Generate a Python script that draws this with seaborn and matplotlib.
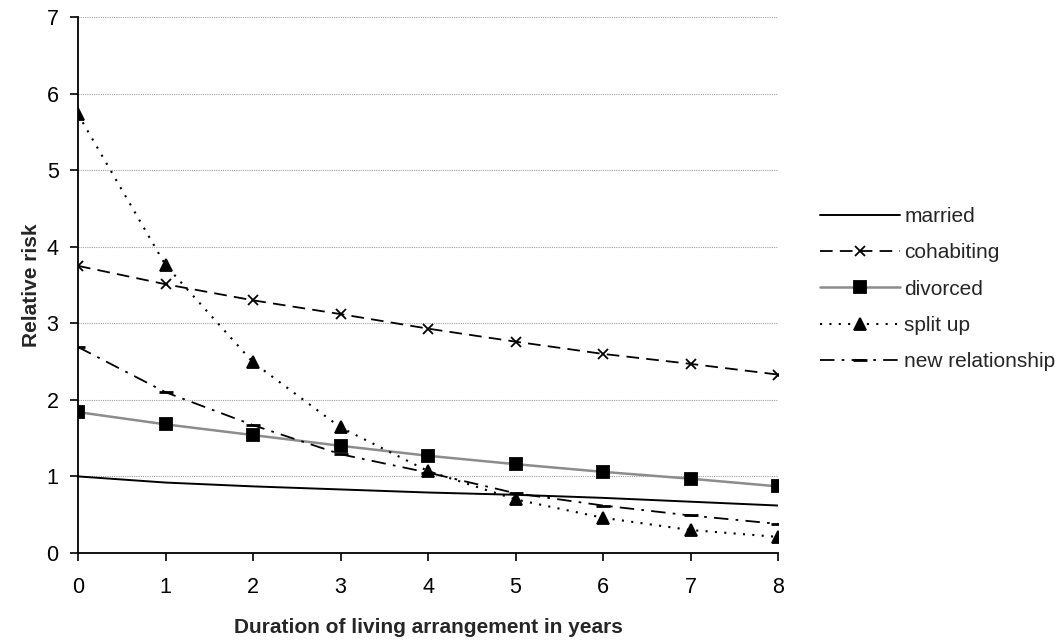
import numpy as np
import pandas as pd
import matplotlib
matplotlib.use("Agg")
import matplotlib.pyplot as plt
import seaborn as sns

# values
years = [0, 1, 2, 3, 4, 5, 6, 7, 8]
married = [1.00, 0.92, 0.87, 0.83, 0.79, 0.76, 0.72, 0.67, 0.62]
cohabiting = [3.75, 3.51, 3.30, 3.12, 2.93, 2.76, 2.60, 2.47, 2.33]
divorced = [1.84, 1.68, 1.54, 1.40, 1.27, 1.16, 1.06, 0.97, 0.87]
split_up = [5.73, 3.76, 2.49, 1.64, 1.07, 0.70, 0.46, 0.30, 0.21]
new_relationship = [2.69, 2.10, 1.67, 1.29, 1.05, 0.78, 0.62, 0.49, 0.38]

series = {
    "married": married,
    "cohabiting": cohabiting,
    "divorced": divorced,
    "split up": split_up,
    "new relationship": new_relationship,
}

rows = []
for name, vals in series.items():
    for x, v in zip(years, vals):
        rows.append({"year": x, "group": name, "risk": v})
df = pd.DataFrame(rows)

sns.set_style("white")
plt.rcParams["font.family"] = ["Liberation Sans", "DejaVu Sans"]

styles = {
    "married": dict(color="black", lw=1.4, ls="-", marker=None, ms=0),
    "cohabiting": dict(color="black", lw=1.3, ls=(0, (7, 4)), marker="x", ms=7),
    "divorced": dict(color="#8c8c8c", lw=1.8, ls="-", marker="s", ms=8),
    "split up": dict(color="black", lw=1.5, ls=(0, (1, 3.5)), marker="^", ms=8),
    "new relationship": dict(color="black", lw=1.3, ls=(0, (8, 4, 1.5, 4)), marker="_", ms=10),
}

fig = plt.figure(figsize=(10.64, 6.44), dpi=100)
ax = fig.add_axes([78 / 1064, 1 - 553 / 644, 700 / 1064, 536 / 644])

for name in series:
    st = styles[name]
    sns.lineplot(data=df[df["group"] == name], x="year", y="risk", ax=ax,
                 color=st["color"], linewidth=st["lw"], linestyle=st["ls"],
                 marker=st["marker"], markersize=st["ms"],
                 markerfacecolor="black", markeredgecolor="black",
                 markeredgewidth=2.0 if name == "new relationship" else 1.3,
                 label=name, zorder=3)

ax.set_xlim(0, 8)
ax.set_ylim(0, 7)
ax.set_xticks(years)
ax.set_yticks(range(0, 8))
ax.yaxis.grid(True, color="#a0a0a0", linewidth=0.8, linestyle=(0, (1, 1)))
ax.xaxis.grid(False)
ax.set_axisbelow(True)
for s in ["top", "right"]:
    ax.spines[s].set_visible(False)
for s in ["left", "bottom"]:
    ax.spines[s].set_color("black")
    ax.spines[s].set_linewidth(1.3)
ax.tick_params(axis="both", direction="out", length=6, width=1.2, colors="black",
               labelsize=15.5, bottom=True, left=True)
ax.tick_params(axis="x", pad=11)
ax.tick_params(axis="y", pad=8)

ax.set_xlabel("Duration of living arrangement in years", fontsize=15,
              fontweight="bold", labelpad=15)
ax.set_ylabel("Relative risk", fontsize=15, fontweight="bold", labelpad=4)

ax.legend(loc="center left", bbox_to_anchor=(1.06, 0.492), frameon=False,
          borderaxespad=0, borderpad=0,
          fontsize=15, handlelength=3.85, handletextpad=0.2, labelspacing=0.83)

fig.savefig("out.png", dpi=100)
